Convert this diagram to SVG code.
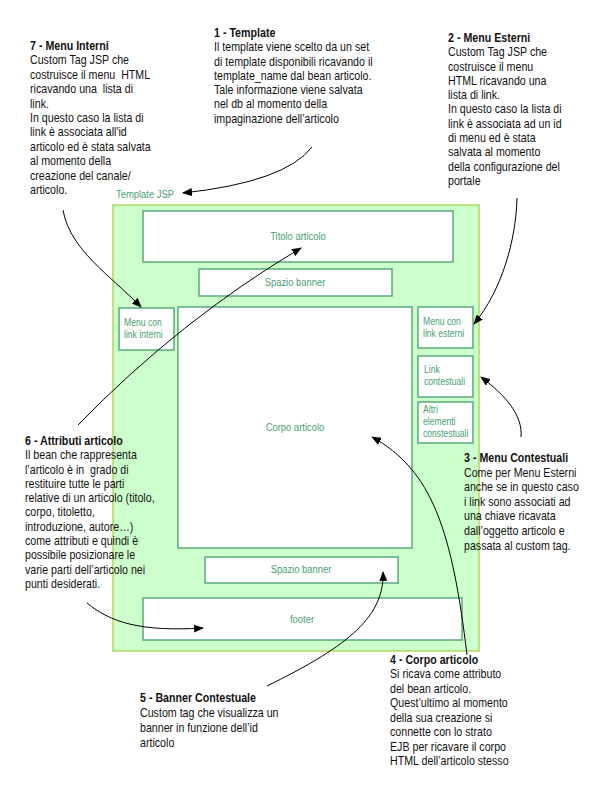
<svg xmlns="http://www.w3.org/2000/svg" width="600" height="800" viewBox="0 0 600 800">
<style>
.note{font-family:"Liberation Sans Narrow","Liberation Sans",Arial,sans-serif;font-size:13px;fill:#111;white-space:pre}
.note .t{font-weight:bold}
.lbl{font-family:"Liberation Sans Narrow","Liberation Sans",Arial,sans-serif;font-size:11.5px;fill:#4a9e72}
.sm{font-size:10.5px}
.box{fill:#fff;stroke:#5aa97d;stroke-width:1.5}
.cont{fill:#ccffcc;stroke:#b5d65a;stroke-width:1.5}
.conn{fill:none;stroke:#000;stroke-width:1}
</style>
<defs>
<marker id="ah" markerUnits="userSpaceOnUse" markerWidth="10" markerHeight="8" refX="9" refY="4" orient="auto">
<path d="M0,0 L10,4 L0,8 Z" fill="#000"/>
</marker>
</defs>

<g id="template">
<rect class="cont" x="113" y="205" width="366" height="446"/>
<text class="lbl" transform="translate(116,0) scale(0.82,1)" x="0" y="198">Template JSP</text>
</g>
<g id="titolo"><rect class="box" x="143" y="211" width="310" height="51"/><text class="lbl" transform="translate(298,0) scale(0.82,1)" x="0" y="240" text-anchor="middle">Titolo articolo</text></g>
<g id="banner1"><rect class="box" x="199" y="269" width="193" height="27"/><text class="lbl" transform="translate(295,0) scale(0.82,1)" x="0" y="286" text-anchor="middle">Spazio banner</text></g>
<g id="menuint"><rect class="box" x="119" y="308" width="55" height="42"/><g transform="translate(124,0) scale(0.82,1)"><text class="lbl sm" x="0" y="326">Menu con</text><text class="lbl sm" x="0" y="338">link interni</text></g></g>
<g id="corpo"><rect class="box" x="178" y="307" width="234" height="241"/><text class="lbl" transform="translate(295,0) scale(0.82,1)" x="0" y="431" text-anchor="middle">Corpo articolo</text></g>
<g id="menuest"><rect class="box" x="418" y="307" width="55" height="41"/><g transform="translate(423,0) scale(0.82,1)"><text class="lbl sm" x="0" y="325">Menu con</text><text class="lbl sm" x="0" y="337">link esterni</text></g></g>
<g id="linkcont"><rect class="box" x="418" y="356" width="55" height="41"/><g transform="translate(424,0) scale(0.82,1)"><text class="lbl sm" x="0" y="373">Link</text><text class="lbl sm" x="0" y="385">contestuali</text></g></g>
<g id="altri"><rect class="box" x="418" y="402" width="55" height="41"/><g transform="translate(423,0) scale(0.82,1)"><text class="lbl sm" x="0" y="413">Altri</text><text class="lbl sm" x="0" y="425">elementi</text><text class="lbl sm" x="0" y="437">constestuali</text></g></g>
<g id="banner2"><rect class="box" x="205" y="557" width="193" height="26"/><text class="lbl" transform="translate(301,0) scale(0.82,1)" x="0" y="573" text-anchor="middle">Spazio banner</text></g>
<g id="footer"><rect class="box" x="143" y="598" width="319" height="42"/><text class="lbl" transform="translate(302,0) scale(0.82,1)" x="0" y="623" text-anchor="middle">footer</text></g>

<g id="note7" transform="translate(30,0) scale(0.82,1)"><text class="note">
<tspan class="t" x="0" y="50">7 - Menu Interni</tspan>
<tspan x="0" y="64.4">Custom Tag JSP che</tspan>
<tspan x="0" y="78.8">costruisce il menu  HTML</tspan>
<tspan x="0" y="93.2">ricavando una  lista di</tspan>
<tspan x="0" y="107.6">link.</tspan>
<tspan x="0" y="122">In questo caso la lista di</tspan>
<tspan x="0" y="136.4">link è associata all'id</tspan>
<tspan x="0" y="150.8">articolo ed è stata salvata</tspan>
<tspan x="0" y="165.2">al momento della</tspan>
<tspan x="0" y="179.6">creazione del canale/</tspan>
<tspan x="0" y="194">articolo.</tspan>
</text></g>

<g id="note1" transform="translate(214,0) scale(0.82,1)"><text class="note">
<tspan class="t" x="0" y="37">1 - Template</tspan>
<tspan x="0" y="51.3">Il template viene scelto da un set</tspan>
<tspan x="0" y="65.6">di template disponibili ricavando il</tspan>
<tspan x="0" y="79.9">template_name dal bean articolo.</tspan>
<tspan x="0" y="94.2">Tale informazione viene salvata</tspan>
<tspan x="0" y="108.5">nel db al momento della</tspan>
<tspan x="0" y="122.8">impaginazione dell’articolo</tspan>
</text></g>

<g id="note2" transform="translate(448,0) scale(0.82,1)"><text class="note">
<tspan class="t" x="0" y="42">2 - Menu Esterni</tspan>
<tspan x="0" y="56.3">Custom Tag JSP che</tspan>
<tspan x="0" y="70.6">costruisce il menu</tspan>
<tspan x="0" y="84.9">HTML ricavando una</tspan>
<tspan x="0" y="99.2">lista di link.</tspan>
<tspan x="0" y="113.5">In questo caso la lista di</tspan>
<tspan x="0" y="127.8">link è associata ad un id</tspan>
<tspan x="0" y="142.1">di menu ed è stata</tspan>
<tspan x="0" y="156.4">salvata al momento</tspan>
<tspan x="0" y="170.7">della configurazione del</tspan>
<tspan x="0" y="185">portale</tspan>
</text></g>

<g id="note6" transform="translate(25,0) scale(0.82,1)"><text class="note">
<tspan class="t" x="0" y="445">6 - Attributi articolo</tspan>
<tspan x="0" y="459.3">Il bean che rappresenta</tspan>
<tspan x="0" y="473.6">l’articolo è in  grado di</tspan>
<tspan x="0" y="487.9">restituire tutte le parti</tspan>
<tspan x="0" y="502.2">relative di un articolo (titolo,</tspan>
<tspan x="0" y="516.5">corpo, titoletto,</tspan>
<tspan x="0" y="530.8">introduzione, autore…)</tspan>
<tspan x="0" y="545.1">come attributi e quindi è</tspan>
<tspan x="0" y="559.4">possibile posizionare le</tspan>
<tspan x="0" y="573.7">varie parti dell’articolo nei</tspan>
<tspan x="0" y="588">punti desiderati.</tspan>
</text></g>

<g id="note3" transform="translate(464,0) scale(0.82,1)"><text class="note">
<tspan class="t" x="0" y="462">3 - Menu Contestuali</tspan>
<tspan x="0" y="476.6">Come per Menu Esterni</tspan>
<tspan x="0" y="491.2">anche se in questo caso</tspan>
<tspan x="0" y="505.8">i link sono associati ad</tspan>
<tspan x="0" y="520.4">una chiave ricavata</tspan>
<tspan x="0" y="535">dall’oggetto articolo e</tspan>
<tspan x="0" y="549.6">passata al custom tag.</tspan>
</text></g>

<g id="note4" transform="translate(390,0) scale(0.82,1)"><text class="note">
<tspan class="t" x="0" y="664">4 - Corpo articolo</tspan>
<tspan x="0" y="678.5">Si ricava come attributo</tspan>
<tspan x="0" y="693">del bean articolo.</tspan>
<tspan x="0" y="707.5">Quest’ultimo al momento</tspan>
<tspan x="0" y="722">della sua creazione si</tspan>
<tspan x="0" y="736.5">connette con lo strato</tspan>
<tspan x="0" y="751">EJB per ricavare il corpo</tspan>
<tspan x="0" y="765.5">HTML dell’articolo stesso</tspan>
</text></g>

<g id="note5" transform="translate(140,0) scale(0.82,1)"><text class="note">
<tspan class="t" x="0" y="702">5 - Banner Contestuale</tspan>
<tspan x="0" y="717">Custom tag che visualizza un</tspan>
<tspan x="0" y="732">banner in funzione dell’id</tspan>
<tspan x="0" y="747">articolo</tspan>
</text></g>

<g id="connectors">
<path class="conn" marker-end="url(#ah)" d="M312,147 Q285,182 183,193"/>
<path class="conn" marker-end="url(#ah)" d="M517,198 C516,240 502,290 474,324"/>
<path class="conn" marker-end="url(#ah)" d="M521,437 C523,415 505,395 481,377"/>
<path class="conn" marker-end="url(#ah)" d="M467,655 C452,530 432,470 372,437"/>
<path class="conn" marker-end="url(#ah)" d="M267,686 C340,650 385,620 383,572"/>
<path class="conn" marker-end="url(#ah)" d="M78,425 Q180,320 301,248"/>
<path class="conn" marker-end="url(#ah)" d="M87,603 C110,622 140,632 203,628"/>
<path class="conn" marker-end="url(#ah)" d="M63,210 C70,250 110,275 141,307"/>
</g>
</svg>
